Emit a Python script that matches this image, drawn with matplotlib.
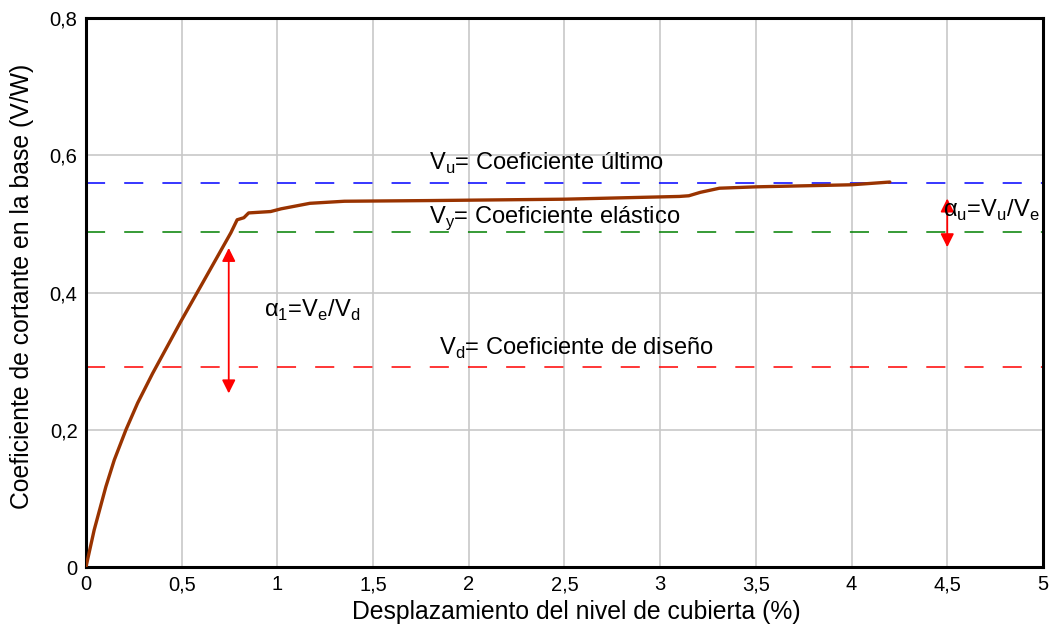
import matplotlib
matplotlib.use("Agg")
import matplotlib.pyplot as plt

plt.rcParams['font.family'] = ['Liberation Sans', 'DejaVu Sans']

# Curve data (drift %, V/W)
drift = [0.0, 0.043, 0.104, 0.148, 0.209, 0.27, 0.348, 0.426, 0.496, 0.565,
         0.65, 0.757, 0.79, 0.825, 0.85, 0.965, 1.02, 1.17, 1.35, 1.8, 2.5, 3.1, 3.15, 3.21,
         3.31, 3.5, 4.0, 4.2]
shear = [0.0, 0.054, 0.117, 0.156, 0.200, 0.239, 0.282, 0.322, 0.358, 0.392,
         0.434, 0.487, 0.506, 0.509, 0.516, 0.518, 0.522, 0.530, 0.533, 0.534, 0.536, 0.540,
         0.541, 0.546, 0.552, 0.554, 0.557, 0.561]

vu = 0.56
vy = 0.488
vd = 0.291

xticks = [0, 0.5, 1, 1.5, 2, 2.5, 3, 3.5, 4, 4.5, 5]
xtick_labels = ['0', '0,5', '1', '1,5', '2', '2,5', '3', '3,5', '4', '4,5', '5']
yticks = [0, 0.2, 0.4, 0.6, 0.8]
ytick_labels = ['0', '0,2', '0,4', '0,6', '0,8']

fig = plt.figure(figsize=(10.52, 6.28), dpi=100)
ax = fig.add_axes([0.0817, 0.0971, 0.9097, 0.8742])

ax.set_xlim(0, 5)
ax.set_ylim(0, 0.8)
ax.set_xticks(xticks)
ax.set_xticklabels(xtick_labels)
ax.set_yticks(yticks)
ax.set_yticklabels(ytick_labels)
ax.tick_params(length=0, labelsize=14.5, pad=6)
ax.grid(True, color='#c8c8c8', linewidth=1.2)
ax.set_axisbelow(True)
for s in ax.spines.values():
    s.set_linewidth(2.2)
    s.set_color('black')

dash = (0, (12.5, 12.5))
ax.axhline(vu, color='#0000ff', linewidth=1.1, linestyle=dash)
ax.axhline(vy, color='#008000', linewidth=1.1, linestyle=dash)
ax.axhline(vd, color='#ff0000', linewidth=1.1, linestyle=dash)

ax.plot(drift, shear, color='#993300', linewidth=2.4, solid_capstyle='round',
        solid_joinstyle='round', zorder=5)

ax.annotate('', xy=(0.746, 0.465), xytext=(0.746, 0.253),
            arrowprops=dict(arrowstyle='<|-|>', color='red', lw=1.3, mutation_scale=20, shrinkA=0, shrinkB=0))
ax.annotate('', xy=(4.5, 0.537), xytext=(4.5, 0.466),
            arrowprops=dict(arrowstyle='<|-|>', color='red', lw=1.3, mutation_scale=20, shrinkA=0, shrinkB=0))

fs = 17
ax.text(1.79, 0.5786, r'V$_\mathregular{u}$= Coeficiente último', fontsize=fs, va='baseline', ha='left')
ax.text(1.79, 0.5013, r'V$_\mathregular{y}$= Coeficiente elástico', fontsize=fs, va='baseline', ha='left')
ax.text(1.843, 0.309, r'V$_\mathregular{d}$= Coeficiente de diseño', fontsize=fs, va='baseline', ha='left')
ax.text(0.929, 0.364, r'α$_\mathregular{1}$=V$_\mathregular{e}$/V$_\mathregular{d}$', fontsize=fs, va='baseline', ha='left')
ax.text(4.478, 0.510, r'α$_\mathregular{u}$=V$_\mathregular{u}$/V$_\mathregular{e}$', fontsize=fs, va='baseline', ha='left')

ax.set_xlabel('Desplazamiento del nivel de cubierta (%)', fontsize=17.8)
ax.xaxis.set_label_coords(0.512, -0.082, transform=ax.transAxes)
ax.xaxis.label.set_va('center')
ax.set_ylabel('Coeficiente de cortante en la base (V/W)', fontsize=17.8)
ax.yaxis.set_label_coords(-0.0668, 0.511, transform=ax.transAxes)
ax.yaxis.label.set_va('center')

fig.savefig('out.png', dpi=100)
